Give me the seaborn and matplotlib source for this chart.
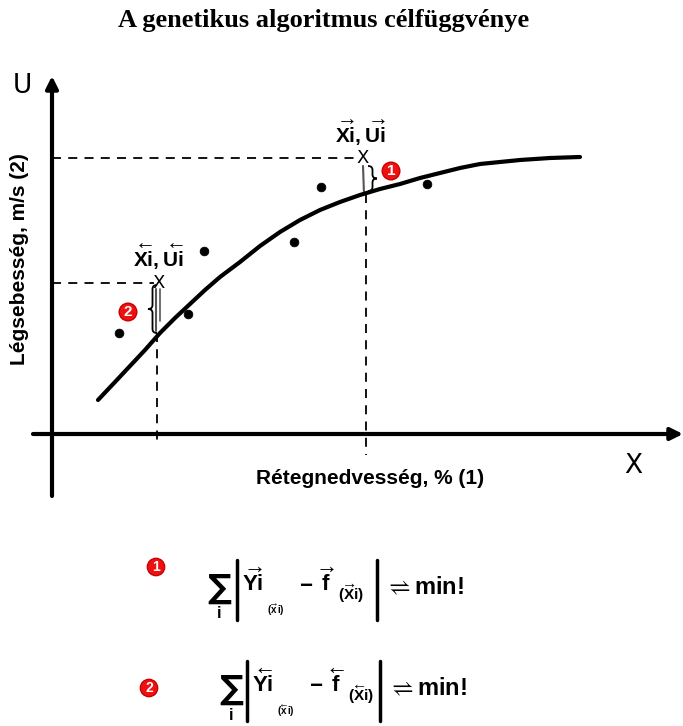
import numpy as np
import matplotlib
matplotlib.use("Agg")
import matplotlib.pyplot as plt
import seaborn as sns
import pandas as pd
from matplotlib.path import Path
from matplotlib.patches import PathPatch

sns.set_theme(style="white")
plt.rcParams['font.family'] = ['Liberation Sans', 'DejaVu Sans']
plt.rcParams['text.color'] = 'black'
plt.rcParams['mathtext.fontset'] = 'custom'
plt.rcParams['mathtext.rm'] = 'Liberation Sans:bold'
plt.rcParams['mathtext.it'] = 'Liberation Sans:bold'
plt.rcParams['mathtext.bf'] = 'Liberation Sans:bold'
plt.rcParams['mathtext.sf'] = 'Liberation Sans:bold'

# ---- data (diagram coordinates) ----
title = "A genetikus algoritmus célfüggvénye"
x_label = "Rétegnedvesség, % (1)"
y_label = "Légsebesség, m/s (2)"

point_x = [119, 188, 204, 294, 321, 427]
point_y = [333, 314, 251, 242, 187, 184]

curve_x = [98, 115, 130, 145, 160, 175, 190, 205, 220, 240, 260, 280, 300, 320, 340,
           360, 380, 400, 420, 440, 460, 480, 500, 520, 550, 580]
curve_y = [400, 382, 366, 350, 333, 318, 304, 290, 277, 262, 246, 232, 220, 210, 202,
           195, 189, 184, 178, 173, 168, 164, 162, 160, 158, 157]

# special points (X markers) and their curve counterparts
sp_x = [363, 159]
sp_y = [158, 283]
sp_curve_y = [194, 333]

pts = pd.DataFrame({"x": point_x, "y": point_y})
crv = pd.DataFrame({"x": curve_x, "y": curve_y})

fig = plt.figure(figsize=(6.83, 7.26), dpi=100)
ax = fig.add_axes([0, 0, 1, 1])

# title
ax.text(324, 20, title, ha='center', va='center', fontsize=19, fontweight='bold',
        family='Liberation Serif')

# axes arrows
ax.annotate('', xy=(683, 434), xytext=(33, 434),
            arrowprops=dict(arrowstyle='-|>', lw=3, color='black', mutation_scale=18,
                            shrinkA=0, shrinkB=0))
ax.annotate('', xy=(52, 76), xytext=(52, 496),
            arrowprops=dict(arrowstyle='-|>', lw=3, color='black', mutation_scale=18,
                            shrinkA=0, shrinkB=0))
ax.text(22, 86, 'U', ha='center', va='center', fontsize=19, family='DejaVu Sans')
ax.text(633, 466, 'X', ha='center', va='center', fontsize=19, family='DejaVu Sans')

ax.text(370, 478, x_label, ha='center', va='center', fontsize=15, fontweight='bold')
ax.text(20, 259, y_label, ha='center', va='center', fontsize=15, fontweight='bold',
        rotation=90)

# dashed guide lines
dash = dict(color='black', lw=1.3, ls=(0, (5, 4)))
ax.plot([52, sp_x[0] - 5], [sp_y[0], sp_y[0]], **dash)
ax.plot([366, 366], [sp_curve_y[0], 455], **dash)
ax.plot([52, sp_x[1] - 5], [sp_y[1], sp_y[1]], **dash)
ax.plot([157, 157], [sp_curve_y[1], 446], **dash)

# data points & curve
sns.scatterplot(data=pts, x='x', y='y', ax=ax, color='black', s=40, edgecolor='black',
                zorder=5, legend=False)
sns.lineplot(data=crv, x='x', y='y', ax=ax, color='black', lw=3, sort=False,
             estimator=None, zorder=4, solid_joinstyle='round', solid_capstyle='round')
ax.set_xlim(0, 683)
ax.set_ylim(726, 0)
ax.axis('off')

# X markers
for xx, yy in zip(sp_x, sp_y):
    ax.text(xx, yy, 'X', ha='center', va='center', fontsize=13, family='DejaVu Sans')

# residual lines
ax.plot([sp_x[0], sp_x[0] + 1], [sp_y[0] + 8, sp_curve_y[0]], color='#555555', lw=1.5)
ax.plot([sp_x[1] - 3, sp_x[1] - 3], [sp_y[1] + 6, sp_curve_y[1] - 2], color='#555555', lw=1.5)
ax.plot([sp_x[1] + 1, sp_x[1] + 1], [sp_y[1] + 6, sp_curve_y[1] - 12], color='#555555', lw=1.2)


def brace(x, y0, y1, w, direction):
    """curly brace between y0 and y1 at x; direction +1 tip right, -1 tip left"""
    ym = (y0 + y1) / 2
    d = direction * w
    verts = [(x, y0), (x + d * 0.5, y0), (x + d * 0.5, y0 + 4), (x + d * 0.5, ym - 4),
             (x + d * 0.5, ym), (x + d, ym),
             (x + d * 0.5, ym), (x + d * 0.5, ym + 4), (x + d * 0.5, y1 - 4),
             (x + d * 0.5, y1), (x, y1)]
    codes = [Path.MOVETO, Path.CURVE3, Path.CURVE3, Path.LINETO,
             Path.CURVE3, Path.CURVE3,
             Path.CURVE3, Path.CURVE3, Path.LINETO,
             Path.CURVE3, Path.CURVE3]
    ax.add_patch(PathPatch(Path(verts, codes), fc='none', ec='black', lw=1.3))


brace(368, 166, 191, 9, 1)
brace(157, 285, 333, 9, -1)


def red_num(x, y, s, size=11):
    ax.text(x, y, s, ha='center', va='center', fontsize=size, fontweight='bold',
            color='white',
            bbox=dict(boxstyle='circle,pad=0.12', fc='#ee1111', ec='#cc0000', lw=1))


red_num(391, 171, '1')
red_num(128, 312, '2')

# labels of special points
ax.text(360, 133, r'$\overrightarrow{Xi},\overrightarrow{Ui}$', ha='center', va='center',
        fontsize=15)
ax.text(158, 257, r'$\overleftarrow{Xi},\overleftarrow{Ui}$', ha='center', va='center',
        fontsize=15)

# formulas
red_num(156, 567, '1', size=10)
red_num(149, 688, '2', size=10)


def formula(x0, yc, arrow, bar_l, bar_r):
    # summation sign with index
    ax.text(x0, yc - 2, '\u2211', ha='center', va='center', fontsize=24,
            family='DejaVu Sans', fontweight='bold')
    ax.text(x0, yc + 24, 'i', ha='center', va='center', fontsize=12, fontweight='bold')
    # absolute value bars
    ax.plot([bar_l, bar_l], [yc - 30, yc + 30], color='black', lw=2.5)
    ax.plot([bar_r, bar_r], [yc - 30, yc + 30], color='black', lw=2.5)
    ax.text(bar_l + 5, yc - 8, r'$%s{Yi}$' % arrow, ha='left', va='center', fontsize=16)
    ax.text(bar_l + 30, yc + 20, r'$(%s{x}\,i)$' % arrow, ha='left', va='center', fontsize=7)
    ax.text(bar_l + 62, yc - 4, '\u2212', ha='left', va='center', fontsize=16,
            fontweight='bold')
    ax.text(bar_l + 82, yc - 8, r'$%s{f}$' % arrow, ha='left', va='center', fontsize=16)
    ax.text(bar_l + 101, yc + 4, r'$(%s{X}i)$' % arrow, ha='left', va='center', fontsize=11)
    ax.text(bar_r + 7, yc - 2, r'$\rightleftharpoons$min!', ha='left', va='center',
            fontsize=17, fontweight='bold')


formula(219, 590, r'\overrightarrow', 237, 377)
formula(231, 691, r'\overleftarrow', 247, 380)

fig.savefig('out.png', dpi=100)
